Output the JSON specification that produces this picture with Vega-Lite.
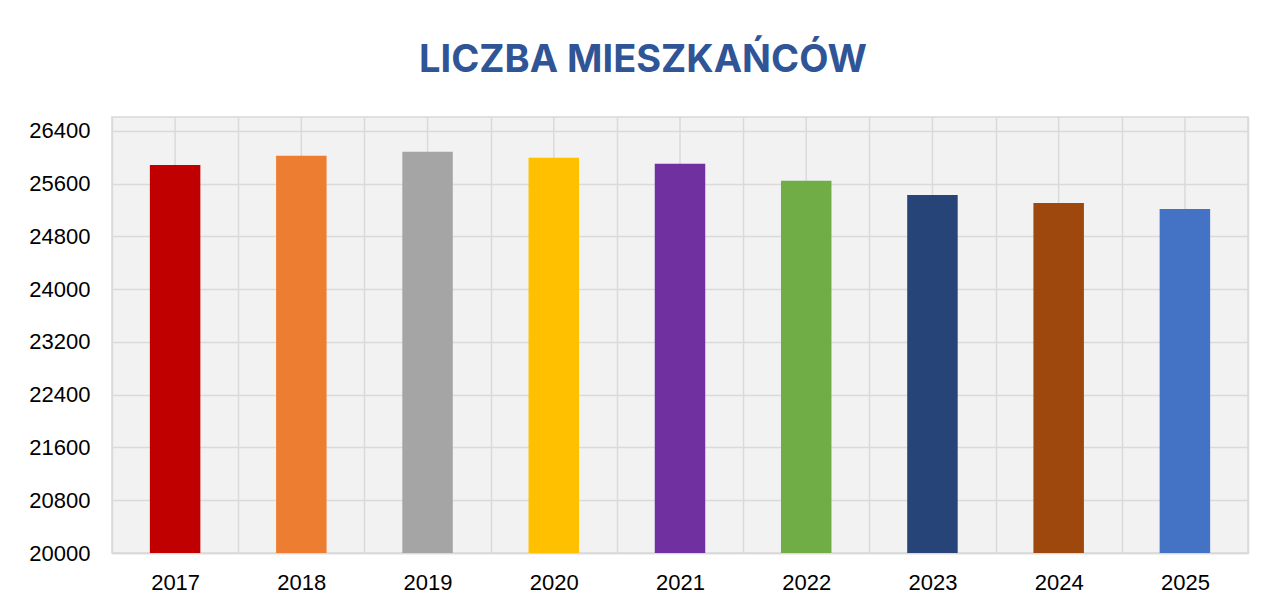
{
  "$schema": "https://vega.github.io/schema/vega-lite/v6.json",
  "autosize": {"type": "none"},
  "padding": {"left": 112, "top": 117, "right": 18, "bottom": 55},
  "width": 1136,
  "height": 436,
  "background": "#ffffff",
  "title": {
    "text": "LICZBA MIESZKAŃCÓW",
    "font": "Inter",
    "fontSize": 38,
    "fontWeight": "bold",
    "color": "#2F5597",
    "anchor": "middle",
    "frame": "group",
    "dx": -37,
    "baseline": "alphabetic",
    "offset": 6
  },
  "config": {
    "view": {"fill": "#f2f2f2", "stroke": "#d9d9d9", "strokeWidth": 1.5},
    "axis": {
      "labelFont": "Liberation Sans",
      "labelFontSize": 22,
      "labelColor": "#000000",
      "gridColor": "#dadada",
      "gridWidth": 1.5,
      "gridOpacity": 1
    }
  },
  "data": {
    "values": [
      {"year": "2017", "value": 25884, "color": "#C00000"},
      {"year": "2018", "value": 26021, "color": "#ED7D31"},
      {"year": "2019", "value": 26082, "color": "#A5A5A5"},
      {"year": "2020", "value": 25991, "color": "#FFC000"},
      {"year": "2021", "value": 25900, "color": "#7030A0"},
      {"year": "2022", "value": 25642, "color": "#70AD47"},
      {"year": "2023", "value": 25429, "color": "#264478"},
      {"year": "2024", "value": 25308, "color": "#9E480E"},
      {"year": "2025", "value": 25217, "color": "#4472C4"}
    ]
  },
  "encoding": {
    "x": {
      "field": "year",
      "type": "ordinal",
      "scale": {"paddingInner": 0, "paddingOuter": 0},
      "axis": {
        "title": null,
        "labelAngle": 0,
        "ticks": false,
        "labelPadding": 19,
        "domainColor": "#d9d9d9",
        "domainWidth": 1.5,
        "grid": true,
        "tickBand": "extent"
      }
    }
  },
  "layer": [
    {
      "mark": {"type": "rule", "color": "#dadada", "strokeWidth": 1.5},
      "encoding": {}
    },
    {
      "mark": {"type": "bar", "width": {"band": 0.4}},
      "encoding": {
        "y": {
          "field": "value",
          "type": "quantitative",
          "scale": {"domain": [20000, 26610], "nice": false, "zero": false},
          "axis": {
            "title": null,
            "format": "d",
            "values": [20000, 20800, 21600, 22400, 23200, 24000, 24800, 25600, 26400],
            "ticks": false,
            "domain": false,
            "labelPadding": 22,
            "grid": true
          }
        },
        "y2": {"datum": 20000},
        "color": {"field": "color", "type": "nominal", "scale": null, "legend": null}
      }
    }
  ]
}
